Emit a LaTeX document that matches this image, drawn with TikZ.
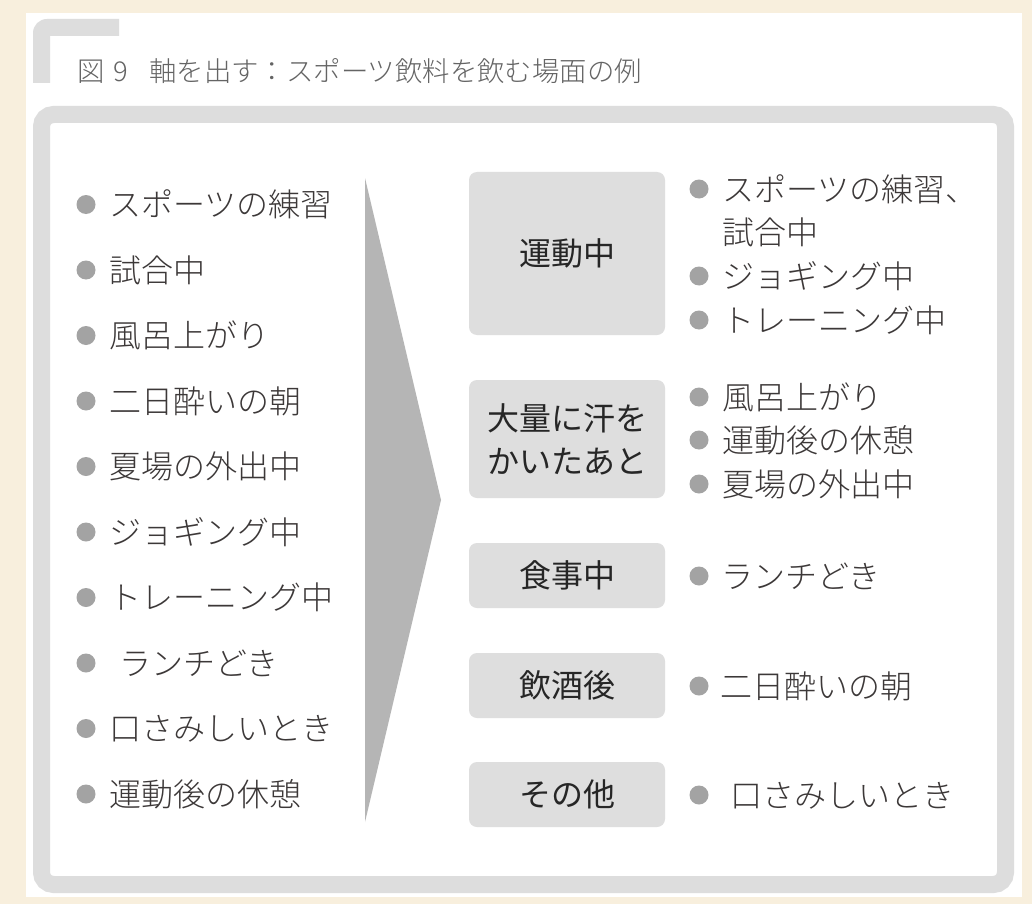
\documentclass[tikz,border=0pt]{standalone}
\usepackage{fontspec}
\setmainfont{Noto Sans CJK JP}
\IfFontExistsTF{Noto Sans CJK JP Light}
  {\newfontfamily\thinjp{Noto Sans CJK JP Light}}
  {\newfontfamily\thinjp{Noto Sans CJK JP}}
\definecolor{paper}{RGB}{248, 239, 221}
\definecolor{framegray}{RGB}{221, 221, 221}
\definecolor{boxgray}{RGB}{222, 222, 222}
\definecolor{arrowgray}{RGB}{181, 181, 181}
\definecolor{dotgray}{RGB}{163, 163, 163}
\definecolor{itemgray}{RGB}{60, 56, 56}
\definecolor{titlegray}{RGB}{100, 100, 100}
\usepackage{tikz}

\tikzset{
  item/.style={anchor=west, inner sep=0pt, text=itemgray,
               font=\thinjp\fontsize{32pt}{43pt}\selectfont, text height=28pt, text depth=4pt},
  bulletdot/.style={circle, fill=dotgray, inner sep=0pt, minimum size=19pt},
  scene/.style={fill=boxgray, rounded corners=8pt, minimum width=196pt, inner sep=0pt,
                align=center, text=black!85, font=\fontsize{32pt}{43pt}\selectfont}
}

\begin{document}
\begin{tikzpicture}[x=1pt, y=-1pt]
  % page and panel
  \useasboundingbox (0,0) rectangle (1032,904);
  \fill[paper] (0,0) rectangle (1032,904);
  \fill[white] (26,13) rectangle (1022,897);
  % corner mark and title
  \fill[framegray] (33,83) -- (33,33) arc[start angle=180, end angle=90, radius=14pt]
      -- (119,19) -- (119,36) -- (50,36) -- (50,83) -- cycle;
  \node[anchor=west, inner sep=0pt, text=titlegray, font=\thinjp\fontsize{27.4pt}{30pt}\selectfont,
        text height=24.1pt, text depth=3.3pt] (title) at (77,71.5)
        {図\hspace{9pt}9\hspace{21pt}軸を出す：スポーツ飲料を飲む場面の例};
  % outer frame
  \draw[framegray, line width=17pt, rounded corners=12pt] (41.5,114.5) rectangle (1005.5,884.5);

  % left list - all scenes
  \foreach \i/\name in {
      1/スポーツの練習,
      2/試合中,
      3/風呂上がり,
      4/二日酔いの朝,
      5/夏場の外出中,
      6/ジョギング中,
      7/トレーニング中,
      8/{\hspace{10pt}ランチどき},
      9/口さみしいとき,
      10/運動後の休憩
  } {
      \node[bulletdot] (ld\i) at (86, {204.5+65.5*(\i-1)}) {};
      \node[item] (l\i) at (109, {204.5+65.5*(\i-1)}) {\name};
  }

  % big arrow
  \fill[arrowgray] (365,178) -- (441,500) -- (365,822) -- cycle;

  % scene boxes
  \node[scene, minimum height=163pt] (s1) at (567,253.5) {運動中};
  \node[scene, minimum height=118pt] (s2) at (567,439) {大量に汗を\\かいたあと};
  \node[scene, minimum height=65pt] (s3) at (567,575.5) {食事中};
  \node[scene, minimum height=65pt] (s4) at (567,685.5) {飲酒後};
  \node[scene, minimum height=65pt] (s5) at (567,794.5) {その他};

  % right list - grouped scenes
  \foreach \n/\x/\y/\name in {
      a/722/189/スポーツの練習、,
      c/722/276/ジョギング中,
      d/722/320/トレーニング中,
      e/722/397/風呂上がり,
      f/722/440/運動後の休憩,
      g/722/484/夏場の外出中,
      h/721/576/ランチどき,
      i/720/686/二日酔いの朝,
      j/730/795/口さみしいとき
  } {
      \node[bulletdot] (rd\n) at (699,\y) {};
      \node[item] (r\n) at (\x,\y) {\name};
  }
  \node[item] (rb) at (722,232.5) {試合中};
\end{tikzpicture}
\end{document}
